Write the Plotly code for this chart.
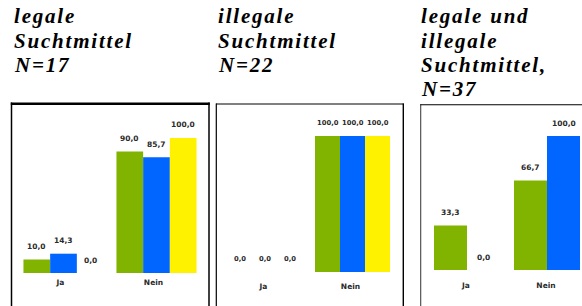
import plotly.graph_objects as go

W, H = 582, 306

# ---------------- data ----------------
categories = ["Ja", "Nein"]

# Panel 1: legale Suchtmittel, N=17
p1_green = [10.0, 90.0]
p1_blue = [14.3, 85.7]
p1_yellow = [0.0, 100.0]

# Panel 2: illegale Suchtmittel, N=22
p2_green = [0.0, 100.0]
p2_blue = [0.0, 100.0]
p2_yellow = [0.0, 100.0]

# Panel 3: legale und illegale Suchtmittel, N=37
p3_green = [33.3, 66.7]
p3_blue = [0.0, 100.0]

title1 = ["legale", "Suchtmittel", "N=17"]
title2 = ["illegale", "Suchtmittel", "N=22"]
title3 = ["legale und", "illegale", "Suchtmittel,", "N=37"]

# ---------------- style ----------------
GREEN = "#80B400"
BLUE = "#0066FF"
YELLOW = "#FFF200"
TICK_FONT = dict(family="DejaVu Sans", size=7.5, color="#2a2a2a", weight="bold")
TITLE_FONT = dict(family="Liberation Serif", size=21, color="#000000",
                  weight="bold", style="italic")


def px_x(p):
    return p / W


def px_y(p):
    return 1 - p / H


panels = [
    dict(series=[(p1_green, GREEN), (p1_blue, BLUE), (p1_yellow, YELLOW)],
         xdom=(17, 203), xrange=(-0.5, 1.5), base=273, top=138, barpx=26.7,
         shift=-3, standoff=3, title=title1, tx=11.5, vsize=7.5),
    dict(series=[(p2_green, GREEN), (p2_blue, BLUE), (p2_yellow, YELLOW)],
         xdom=(221.7, 396.1), xrange=(-0.5, 1.5), base=272, top=136, barpx=25,
         shift=-2, standoff=8, title=title2, tx=215.5, vsize=6.8),
    dict(series=[(p3_green, GREEN), (p3_blue, BLUE)],
         xdom=(427, 582), xrange=(-0.5, 1.4375), base=270, top=136, barpx=33,
         shift=-1, standoff=9, title=title3, tx=418.5, vsize=7.5),
]

fig = go.Figure()
annotations = []
title_count = 0

# titles first (letter-spaced later)
for p in panels:
    for k, line in enumerate(p["title"]):
        baseline = 25 + 24.3 * k
        annotations.append(dict(
            text=line, xref="paper", yref="paper",
            x=px_x(p["tx"]), y=px_y(baseline + 5.5),
            xanchor="left", yanchor="bottom", align="left",
            showarrow=False, font=TITLE_FONT))
        title_count += 1

layout_axes = {}
for j, p in enumerate(panels):
    sfx = "" if j == 0 else str(j + 1)
    xa, ya = "x" + sfx, "y" + sfx
    unit_px = (p["xdom"][1] - p["xdom"][0]) / (p["xrange"][1] - p["xrange"][0])
    w = p["barpx"] / unit_px
    n = len(p["series"])
    vfont = dict(TICK_FONT, size=p["vsize"])
    for i, (vals, col) in enumerate(p["series"]):
        fig.add_trace(go.Bar(
            x=categories, y=vals, width=w, offset=(i - n / 2) * w,
            marker=dict(color=col, line=dict(width=0)),
            xaxis=xa, yaxis=ya, showlegend=False, hoverinfo="skip"))
        for c, v in zip(categories, vals):
            annotations.append(dict(
                text=f"{v:.1f}".replace(".", ","), x=c, y=v, xref=xa, yref=ya,
                xshift=(i - (n - 1) / 2) * p["barpx"], yshift=13,
                showarrow=False, font=vfont, xanchor="center", yanchor="middle"))
    layout_axes["xaxis" + sfx] = dict(
        type="category", domain=[px_x(p["xdom"][0]), px_x(p["xdom"][1])],
        range=list(p["xrange"]), anchor=ya, showgrid=False, zeroline=False,
        showline=False, ticks="", tickfont=TICK_FONT,
        ticklabelstandoff=p["standoff"], ticklabelshift=p["shift"], fixedrange=True)
    layout_axes["yaxis" + sfx] = dict(
        range=[0, 100], domain=[px_y(p["base"]), px_y(p["top"])], anchor=xa,
        visible=False, fixedrange=True)

# panel frames
def vline(x, y0, width, color="#000000"):
    return dict(type="line", xref="paper", yref="paper", x0=px_x(x), x1=px_x(x),
                y0=px_y(y0), y1=px_y(H + 2), line=dict(color=color, width=width))


def hline(x0, x1, y, width, color="#000000"):
    return dict(type="line", xref="paper", yref="paper", x0=px_x(x0), x1=px_x(x1),
                y0=px_y(y), y1=px_y(y), line=dict(color=color, width=width))


shapes = [
    vline(11.5, 102.5, 1.5), hline(10.8, 209.8, 103.8, 2.6), vline(209, 102.5, 1.5),
    vline(216.3, 103.5, 1.2), hline(216, 403.8, 104, 1.0), vline(403.3, 103.5, 1.4),
    vline(420.7, 104.3, 1.1, "#444444"), hline(420.3, 584, 104.8, 1.1),
]

fig.update_layout(
    width=W, height=H, autosize=False,
    margin=dict(l=0, r=0, t=0, b=0, pad=0),
    paper_bgcolor="white", plot_bgcolor="rgba(0,0,0,0)",
    barmode="overlay", showlegend=False,
    annotations=annotations, shapes=shapes,
    **layout_axes,
)

post = """
document.documentElement.style.margin = '0';
document.documentElement.style.padding = '0';
document.body.style.margin = '0';
document.body.style.padding = '0';
document.body.style.overflow = 'hidden';
var gd = document.getElementById('{plot_id}');
function spaceTitles(){
  gd.querySelectorAll('g.annotation').forEach(function(g){
    var i = parseInt(g.getAttribute('data-index'));
    if(i < %d){
      var t = g.querySelector('text.annotation-text');
      if(t){ t.style.letterSpacing = '1.8px'; }
    }
  });
}
spaceTitles();
gd.on('plotly_afterplot', spaceTitles);
""" % title_count

fig.write_html("out.html", config=dict(displayModeBar=False, staticPlot=True),
               post_script=post)
